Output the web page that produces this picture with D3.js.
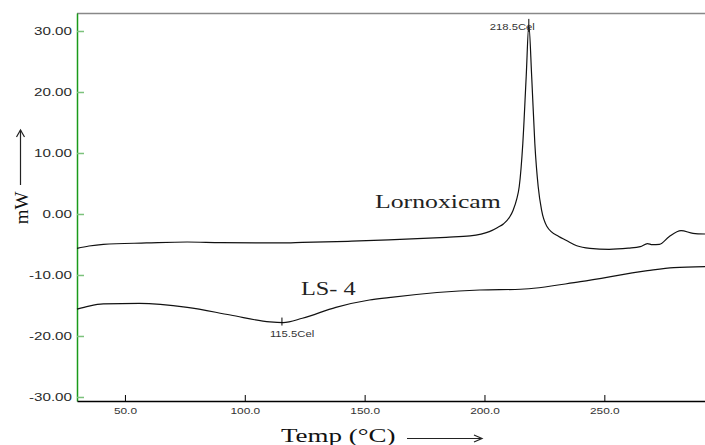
<!DOCTYPE html>
<html>
<head>
<meta charset="utf-8">
<script src="https://cdn.jsdelivr.net/npm/d3@7"></script>
<style>
body { margin: 0; background: #fff; }
svg { display: block; }
</style>
</head>
<body>
<div id="chart"></div>
<script>
// Lornoxicam DSC trace (temp, mW)
var lornoTemp = [30, 35, 41, 59, 76, 90, 115, 124, 143, 160, 184, 194, 202, 205.5, 208, 210.5, 212, 213.5, 214.5, 216, 217.4, 218.5,
                 219.7, 221, 222.4, 223.8, 226, 231, 234, 238.5, 244, 252, 260, 265, 268, 270, 273, 277, 282, 287, 292];
var lornoVal  = [-5.65, -5.25, -4.97, -4.75, -4.59, -4.7, -4.75, -4.67, -4.48, -4.26, -3.82, -3.6, -2.9, -2.2, -1.6, -0.5, 0.66, 2.5, 4.5, 11.6, 22.5, 31.0,
                 22.5, 11.6, 4.5, 0.66, -2.0, -3.7, -4.3, -5.2, -5.63, -5.79, -5.6, -5.36, -4.85, -5.03, -4.97, -3.72, -2.73, -3.17, -3.28];
// LS-4 trace
var ls4Temp = [30, 35, 41, 56, 76, 94, 110.5, 116, 124, 138, 152, 160, 198, 215, 240, 268, 279, 292];
var ls4Val  = [-15.6, -15.1, -14.75, -14.65, -15.3, -16.56, -17.7, -17.8, -17.1, -15.3, -14.1, -13.7, -12.46, -12.34, -11.1, -9.3, -8.8, -8.64];

var xTicks = [50, 100, 150, 200, 250];
var yTicks = [30, 20, 10, 0, -10, -20, -30];
var peakTemps = [218.5, 115.5];
var peakVals = [31.0, -17.8];
var peakLabels = ["218.5Cel", "115.5Cel"];

var width = 705, height = 445;
var plotL = 77, plotR = 705, plotT = 13, plotB = 401;
var sans = "Liberation Sans, Arial, sans-serif";
var serif = "Liberation Serif, Times New Roman, serif";

// the original picture is stretched sideways, so widen the text the same way
function stretch(sel, k) {
    sel.each(function () {
        var w = this.getComputedTextLength();
        d3.select(this).attr("textLength", w * k).attr("lengthAdjust", "spacingAndGlyphs");
    });
}

var svg = d3.select("#chart").append("svg")
    .attr("width", width).attr("height", height);

var x = d3.scaleLinear().domain([30, 292]).range([plotL, plotR]);
var y = d3.scaleLinear().domain([-30.66, 32.95]).range([plotB, plotT]);

// top border
svg.append("line")
    .attr("x1", plotL).attr("x2", plotR).attr("y1", plotT + 0.5).attr("y2", plotT + 0.5)
    .attr("stroke", "#888").attr("stroke-width", 1.5);

// y axis (green, ticks pointing inward)
var yAxis = svg.append("g")
    .attr("transform", "translate(" + plotL + ",0)")
    .call(d3.axisLeft(y).tickValues(yTicks).tickSize(-7).tickSizeOuter(0).tickPadding(5)
        .tickFormat(function (d) { return d.toFixed(2); }));
yAxis.select(".domain").attr("stroke", "#1a9a1a").attr("stroke-width", 1.5);
yAxis.selectAll(".tick line").attr("stroke", "#7cc27c").attr("stroke-width", 1.5);
yAxis.selectAll(".tick text")
    .attr("font-family", sans).attr("font-size", 11).attr("fill", "#2a2a2a")
    .call(stretch, 1.38);

// x axis (black, ticks pointing up)
var xAxis = svg.append("g")
    .attr("transform", "translate(0," + plotB + ")")
    .call(d3.axisBottom(x).tickValues(xTicks).tickSize(-6).tickSizeOuter(0).tickPadding(7)
        .tickFormat(function (d) { return d.toFixed(1); }));
xAxis.select(".domain").attr("stroke", "#000").attr("stroke-width", 1.5);
xAxis.selectAll(".tick line").attr("stroke", "#000");
xAxis.selectAll(".tick text")
    .attr("font-family", sans).attr("font-size", 9).attr("fill", "#333")
    .call(stretch, 1.32);

var line = d3.line()
    .x(function (d) { return x(d[0]); })
    .y(function (d) { return y(d[1]); })
    .curve(d3.curveMonotoneX);

svg.append("path")
    .datum(d3.zip(lornoTemp, lornoVal))
    .attr("d", line).attr("fill", "none")
    .attr("stroke", "#111").attr("stroke-width", 1.2);
svg.append("path")
    .datum(d3.zip(ls4Temp, ls4Val))
    .attr("d", line).attr("fill", "none")
    .attr("stroke", "#111").attr("stroke-width", 1.2);

// peak markers and labels
peakTemps.forEach(function (t, i) {
    var px = x(t), py = y(peakVals[i]);
    svg.append("line")
        .attr("x1", px).attr("x2", px).attr("y1", i == 0 ? py - 6 : py - 5).attr("y2", i == 0 ? py + 7 : py + 3)
        .attr("stroke", "#000");
    svg.append("text")
        .attr("x", i == 0 ? px - 39 : px - 12)
        .attr("y", i == 0 ? 30 : py + 14)
        .attr("font-family", sans).attr("font-size", 9).attr("fill", "#333")
        .text(peakLabels[i])
        .call(stretch, 1.25);
});

// curve names
svg.append("text")
    .attr("x", 375).attr("y", 208).attr("font-family", serif)
    .attr("font-size", 18).attr("fill", "#222")
    .text("Lornoxicam")
    .call(stretch, 1.43);
svg.append("text")
    .attr("x", 301).attr("y", 295).attr("font-family", serif)
    .attr("font-size", 18).attr("fill", "#222")
    .text("LS- 4")
    .call(stretch, 1.35);

// axis titles with arrows
svg.append("text")
    .attr("x", 281).attr("y", 442).attr("font-family", serif)
    .attr("font-size", 19).attr("fill", "#111")
    .text("Temp (°C)")
    .call(stretch, 1.42);
svg.append("line")
    .attr("x1", 407).attr("x2", 482).attr("y1", 438.5).attr("y2", 438.5)
    .attr("stroke", "#222").attr("stroke-width", 1.2);
svg.append("path")
    .attr("d", "M474,435 L482,438.5 L474,442")
    .attr("fill", "none").attr("stroke", "#222").attr("stroke-width", 1.2);

svg.append("text")
    .attr("transform", "translate(28,208) rotate(-90)")
    .attr("text-anchor", "middle").attr("font-family", serif)
    .attr("font-size", 19).attr("fill", "#111")
    .text("mW");
svg.append("line")
    .attr("x1", 20.5).attr("x2", 20.5).attr("y1", 185).attr("y2", 130)
    .attr("stroke", "#222").attr("stroke-width", 1.2);
svg.append("path")
    .attr("d", "M16.5,137 L20.5,130 L24.5,137")
    .attr("fill", "none").attr("stroke", "#222").attr("stroke-width", 1.2);
</script>
</body>
</html>
